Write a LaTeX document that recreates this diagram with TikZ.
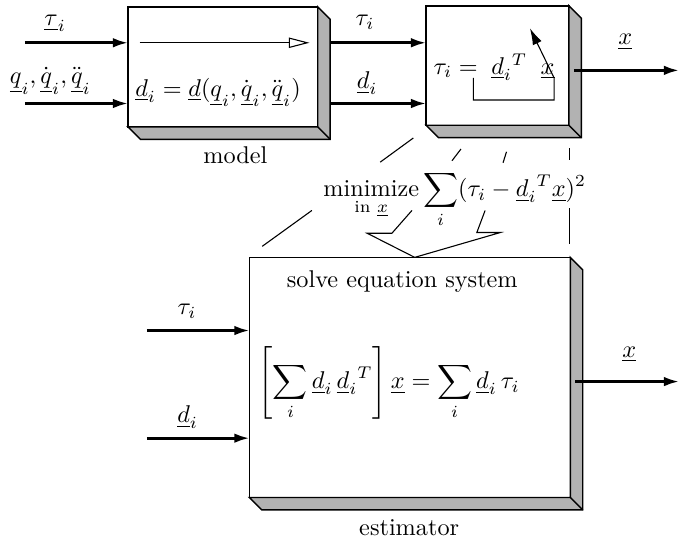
\documentclass[tikz,border=0pt]{standalone}
\usepackage{amsmath}
\usetikzlibrary{calc,arrows.meta}

\begin{document}
\begin{tikzpicture}[thick,
  block/.style={draw, line width=0.6pt, fill=white, inner sep=0pt, outer sep=0pt},
  depth/.style={draw, line width=0.6pt, fill=black!30},
  flow/.style={line width=1.1pt, -{Latex[length=2.2mm,width=1.4mm]}},
  guide/.style={line width=0.45pt}]
  \useasboundingbox (0,0) rectangle (9.84,7.83);

  % Bloecke
  \node[block, minimum width=2.75cm, minimum height=1.74cm] (model) at (3.23,6.86) {};
  \node[block, minimum width=2.07cm, minimum height=1.73cm] (lin)   at (7.21,6.88) {};
  \node[block, minimum width=4.65cm, minimum height=3.48cm] (est)   at (5.94,2.36) {};

  % Tiefe der Bloecke
  \foreach \b in {model,lin,est} {
    \filldraw[depth] (\b.north east) -- ++(0.18,-0.18) -- ($(\b.south east)+(0.18,-0.18)$)
      -- ($(\b.south west)+(0.18,-0.18)$) -- (\b.south west) -- (\b.south east) -- cycle;
    \draw[line width=0.6pt] (\b.south east) -- ++(0.18,-0.18);
  }

  % Eingaenge und Ausgaenge
  \coordinate (in1) at (0.36,7.21);
  \coordinate (in2) at (0.36,6.33);
  \coordinate (in3) at (2.13,3.04);
  \coordinate (in4) at (2.13,1.48);
  \coordinate (out1) at (9.84,6.81);
  \coordinate (out2) at (9.84,2.30);

  \draw[flow] (in1) -- (in1 -| model.west);
  \draw[flow] (in2) -- (in2 -| model.west);
  \draw[flow] ($(in1 -| model.east)+(0.19,0)$) -- (in1 -| lin.west);
  \draw[flow] ($(in2 -| model.east)+(0.19,0)$) -- (in2 -| lin.west);
  \draw[flow] ($(out1 -| lin.east)+(0.07,0)$) -- (out1);
  \draw[flow] (in3) -- (in3 -| est.west);
  \draw[flow] (in4) -- (in4 -| est.west);
  \draw[flow] ($(out2 -| est.east)+(0.07,0)$) -- (out2);

  % Durchreichen im Modell
  \draw[guide, -{Triangle[open,length=3mm,width=1.5mm]}]
    ($(in1 -| model.west)+(0.17,0)$) -- ($(in1 -| model.east)+(-0.12,0)$);

  % Rueckfuehrung im linearen Block
  \draw[guide, -{Latex[length=2.4mm,width=1.4mm]}]
    (6.86,6.70) -- (6.86,6.38) -- (8.03,6.38) -- (8.03,6.70) -- (7.68,7.42);

  % Hilfslinien zur Schaetzung
  \draw[guide] (5.99,5.83) -- (5.51,5.48);
  \draw[guide] (4.52,4.78) -- (3.80,4.26);
  \draw[guide] (6.68,5.67) -- (6.55,5.50);
  \draw[guide] (7.34,5.63) -- (7.29,5.47);
  \draw[guide] (8.25,5.68) -- (8.25,5.51);
  \draw[guide] (8.25,4.81) -- (8.25,4.30);
  \draw[guide] (5.97,4.78) -- (5.68,4.45) -- (5.32,4.45) -- (6.01,4.10)
    -- (7.25,4.46) -- (6.91,4.46) -- (7.03,4.78);

  % Beschriftungen
  \node (ltau1) at (0.80,7.49) {$\underline{\tau}_i$};
  \node (lq)    at (0.73,6.66) {$\underline{q}_i, \dot{\underline{q}}_i, \ddot{\underline{q}}_i$};
  \node (ltau2) at (5.29,7.51) {$\tau_i$};
  \node (ld2)   at (5.32,6.62) {$\underline{d}_i$};
  \node (lx1)   at (9.06,7.22) {$\underline{x}$};
  \node (ltau3) at (2.71,3.32) {$\tau_i$};
  \node (ld3)   at (2.72,1.78) {$\underline{d}_i$};
  \node (lx2)   at (9.12,2.69) {$\underline{x}$};

  \node (fmodel) at (3.16,6.49) {$\underline{d}_i = \underline{d}(\underline{q}_i, \dot{\underline{q}}_i, \ddot{\underline{q}}_i)$};
  \node (flin)   at (7.16,6.86) {$\tau_i = \;\underline{d}_i{}^T\;\;\underline{x}$};
  \node (fmin)   at (6.59,4.94) {$\displaystyle \underset{\text{in }\underline{x}}{\text{minimize}} \sum_i (\tau_i - \underline{d}_i{}^T \underline{x})^2$};
  \node (fsolve) at (5.83,3.75) {solve equation system};
  \node (fest)   at (5.64,2.28) {$\displaystyle \left[\sum_i \underline{d}_i\, \underline{d}_i{}^T\right] \underline{x} = \sum_i \underline{d}_i\, \tau_i$};

  \node (nmodel) at (3.41,5.58) {model};
  \node (nest)   at (5.93,0.19) {estimator};
\end{tikzpicture}
\end{document}
